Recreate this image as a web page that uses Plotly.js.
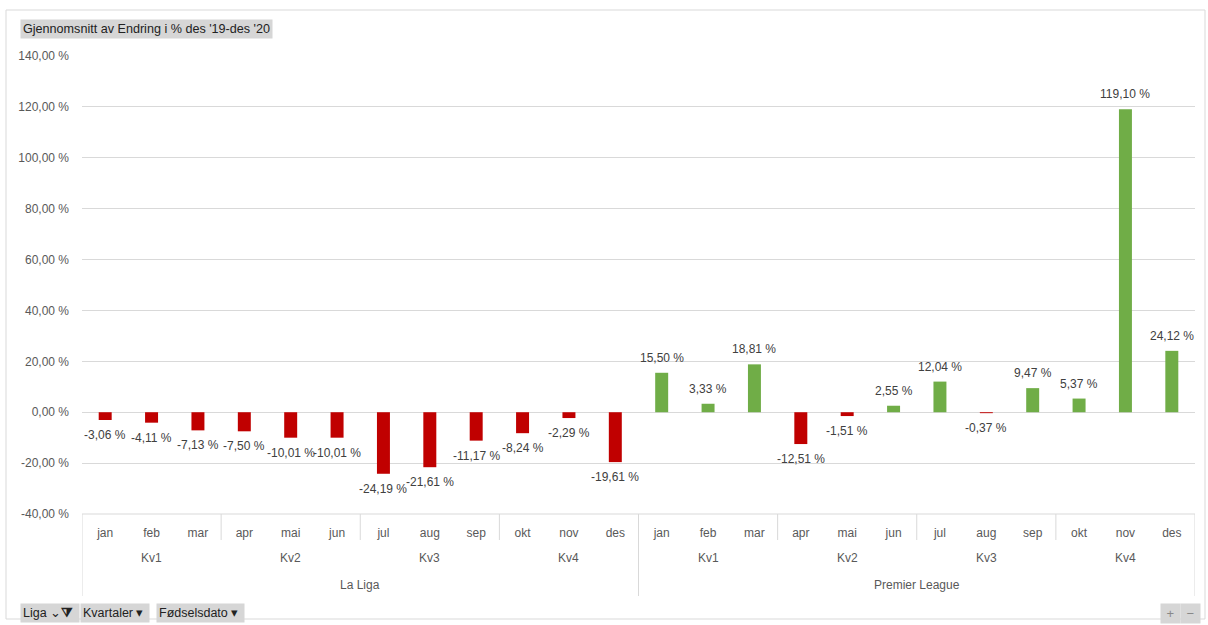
<!DOCTYPE html>
<html><head><meta charset="utf-8">
<script src="https://cdn.plot.ly/plotly-3.0.1.min.js"></script>
<style>html,body{margin:0;padding:0;background:#fff;}#chart{width:1208px;height:625px;}</style>
</head><body><div id="chart"></div>
<script>
const months = ['jan','feb','mar','apr','mai','jun','jul','aug','sep','okt','nov','des'];
const quarters = ['Kv1','Kv2','Kv3','Kv4'];
const leagues = ['La Liga','Premier League'];
const laLiga = [-3.06,-4.11,-7.13,-7.50,-10.01,-10.01,-24.19,-21.61,-11.17,-8.24,-2.29,-19.61];
const premierLeague = [15.50,3.33,18.81,-12.51,-1.51,2.55,12.04,-0.37,9.47,5.37,119.10,24.12];
const yTickVals = [-40,-20,0,20,40,60,80,100,120,140];
const yTickText = ['-40,00 %','-20,00 %','0,00 %','20,00 %','40,00 %','60,00 %','80,00 %','100,00 %','120,00 %','140,00 %'];
const titleText = "Gjennomsnitt av Endring i % des '19-des '20";

const values = laLiga.concat(premierLeague);
const xs = values.map((v,i)=>i);
const monthLabels = leagues.flatMap(()=>months);
const fmt = v => v.toFixed(2).replace('.', ',') + ' %';
const colors = values.map(v => v < 0 ? '#C00000' : '#70AD47');

const FONT = 'Liberation Sans, Arial, sans-serif';
const grid = '#d9d9d9';
const shapes = [];
const annotations = [];
const nM = months.length;
const n = values.length;

// chart frame
shapes.push({type:'rect', xref:'paper', yref:'paper', x0:-76/1113, x1:1123/1113, y0:-105/458, y1:1+46/458, line:{color:grid,width:1}});

// category axis lines
const yQ = -44/458, yL = -71/458, qBot = -26/458, lBot = -82/458;
for (let li=0; li<leagues.length; li++){
  const start = li*nM - 0.5;
  shapes.push({type:'line', xref:'x', yref:'paper', x0:start, x1:start, y0:0, y1:lBot, line:{color:grid,width:1}});
  annotations.push({xref:'x', yref:'paper', x:start + nM/2, y:yL, text:leagues[li], showarrow:false, font:{family:FONT,size:12,color:'#595959'}, yanchor:'middle'});
  for (let q=0; q<quarters.length; q++){
    const qs = start + q*3;
    if (q>0) shapes.push({type:'line', xref:'x', yref:'paper', x0:qs, x1:qs, y0:0, y1:qBot, line:{color:grid,width:1}});
    annotations.push({xref:'x', yref:'paper', x:qs+1.5, y:yQ, text:quarters[q], showarrow:false, font:{family:FONT,size:12,color:'#595959'}, yanchor:'middle'});
  }
}
shapes.push({type:'line', xref:'x', yref:'paper', x0:n-0.5, x1:n-0.5, y0:0, y1:lBot, line:{color:grid,width:1}});
shapes.push({type:'line', xref:'paper', yref:'paper', x0:0, x1:1, y0:0, y1:0, line:{color:grid,width:1}});

// data labels
values.forEach((v,i)=>{
  annotations.push({xref:'x', yref:'y', x:i, y:v, text:fmt(v), showarrow:false, yanchor:'middle', yshift: v<0 ? -15 : 15,
    font:{family:FONT,size:12,color:'#404040'}});
});

// title button
annotations.push({xref:'paper', yref:'paper', x:-62/1113, y:1+27/458, xanchor:'left', yanchor:'middle', text:titleText, showarrow:false,
  font:{family:FONT,size:12.6,color:'#222'}, bgcolor:'#d6d6d6', borderpad:2});
// field buttons
const btnY = -99/458;
annotations.push({xref:'paper', yref:'paper', x:-62/1113, y:btnY, xanchor:'left', yanchor:'middle', text:'Liga \u2304<b>\u29E9</b> ', showarrow:false, font:{family:FONT,size:12.5,color:'#222'}, bgcolor:'#d6d6d6', borderpad:2});
annotations.push({xref:'paper', yref:'paper', x:-2/1113, y:btnY, xanchor:'left', yanchor:'middle', text:'Kvartaler \u25BE ', showarrow:false, font:{family:FONT,size:12.5,color:'#222'}, bgcolor:'#d6d6d6', borderpad:2});
annotations.push({xref:'paper', yref:'paper', x:74/1113, y:btnY, xanchor:'left', yanchor:'middle', text:'Fødselsdato \u25BE ', showarrow:false, font:{family:FONT,size:12.5,color:'#222'}, bgcolor:'#d6d6d6', borderpad:2});
annotations.push({xref:'paper', yref:'paper', x:1078/1113, y:btnY, xanchor:'left', yanchor:'middle', text:' + ', showarrow:false, font:{family:FONT,size:13,color:'#888'}, bgcolor:'#d6d6d6', borderpad:2});
annotations.push({xref:'paper', yref:'paper', x:1098/1113, y:btnY, xanchor:'left', yanchor:'middle', text:' \u2212 ', showarrow:false, font:{family:FONT,size:13,color:'#888'}, bgcolor:'#d6d6d6', borderpad:2});

const trace = {
  type:'bar', x:xs, y:values, marker:{color:colors}, width:0.28, hoverinfo:'none'
};

const layout = {
  width:1208, height:625,
  margin:{l:82, r:13, t:56, b:111},
  paper_bgcolor:'#fff', plot_bgcolor:'#fff',
  showlegend:false,
  font:{family:FONT,size:12,color:'#595959'},
  xaxis:{range:[-0.5, n-0.5], tickvals:xs, ticktext:monthLabels, ticks:'', showgrid:false, zeroline:false, showline:false,
    tickfont:{family:FONT,size:12,color:'#595959'}, ticklabelstandoff:10, fixedrange:true},
  yaxis:{range:[-40,140], tickvals:yTickVals, ticktext:yTickText, showgrid:true, gridcolor:grid, gridwidth:1, zeroline:false, showline:false,
    tickfont:{family:FONT,size:12,color:'#595959'}, ticklabelstandoff:12, fixedrange:true},
  shapes:shapes, annotations:annotations
};
Plotly.newPlot('chart', [trace], layout, {displayModeBar:false, staticPlot:true});
</script></body></html>
